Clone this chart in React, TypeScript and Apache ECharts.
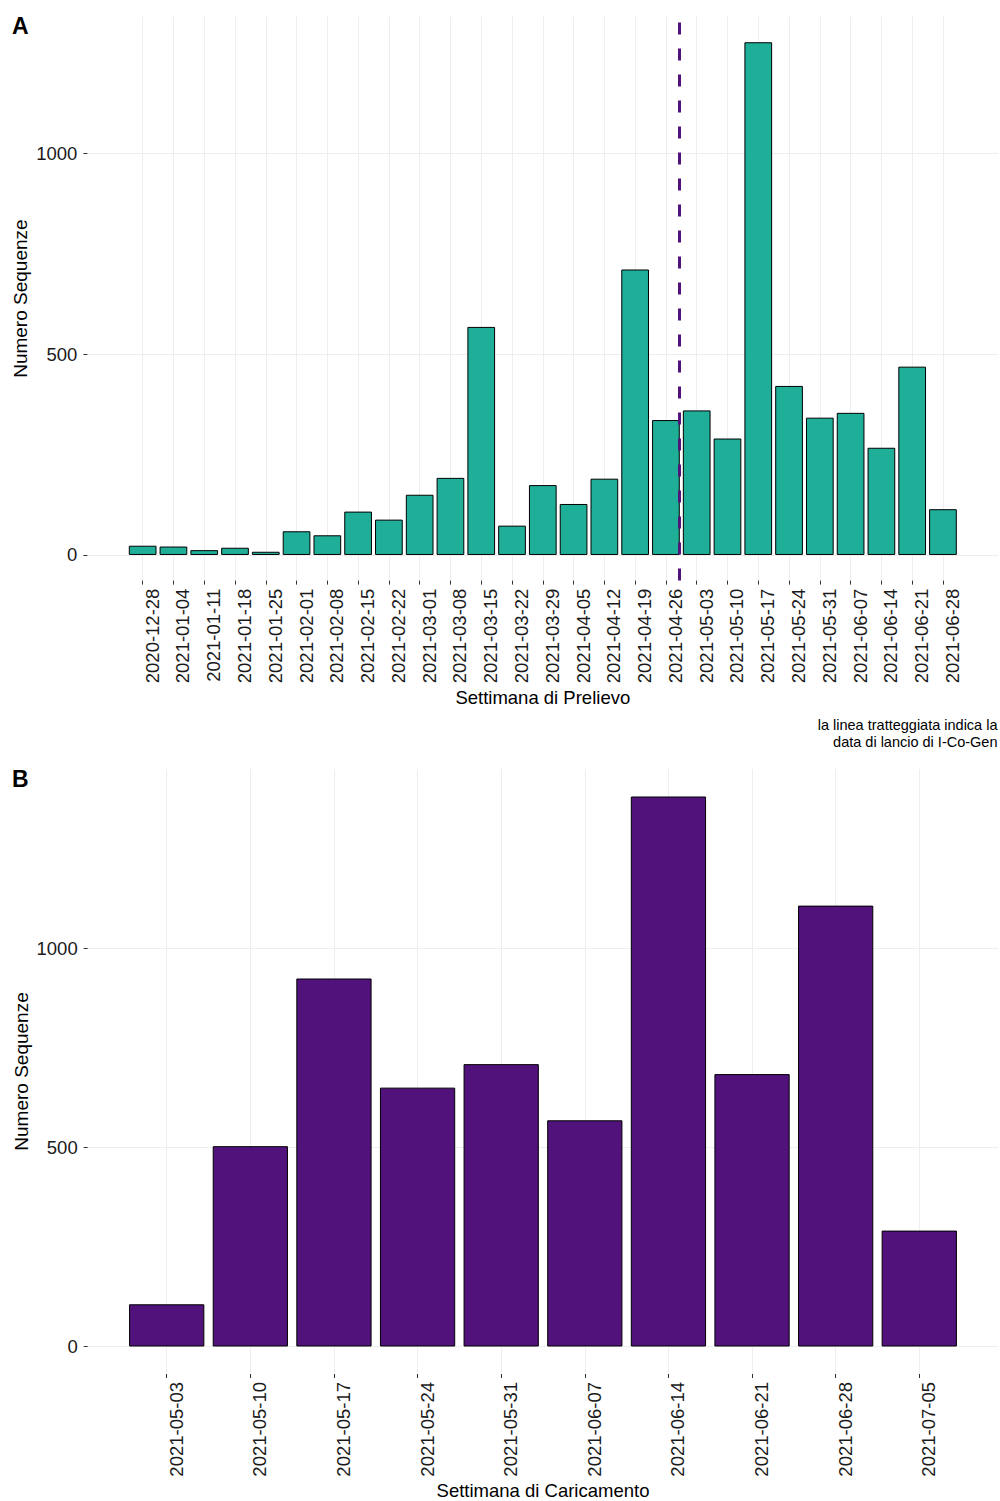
import { useEffect, useRef } from 'react';
import * as echarts from 'echarts';

// Weekly sequence counts by sampling week (panel A)
const weeksA = [
  '2020-12-28', '2021-01-04', '2021-01-11', '2021-01-18', '2021-01-25',
  '2021-02-01', '2021-02-08', '2021-02-15', '2021-02-22', '2021-03-01',
  '2021-03-08', '2021-03-15', '2021-03-22', '2021-03-29', '2021-04-05',
  '2021-04-12', '2021-04-19', '2021-04-26', '2021-05-03', '2021-05-10',
  '2021-05-17', '2021-05-24', '2021-05-31', '2021-06-07', '2021-06-14',
  '2021-06-21', '2021-06-28',
];
const countsA = [
  23, 21, 12, 18, 8, 59, 49, 108, 88, 150, 192, 568, 73, 174, 127, 190, 711,
  336, 360, 290, 1277, 421, 342, 354, 267, 469, 114,
];

// I-Co-Gen launch date (dashed line)
const launchDate = '2021-04-29';

// Weekly sequence counts by upload week (panel B)
const weeksB = [
  '2021-05-03', '2021-05-10', '2021-05-17', '2021-05-24', '2021-05-31',
  '2021-06-07', '2021-06-14', '2021-06-21', '2021-06-28', '2021-07-05',
];
const countsB = [106, 503, 924, 650, 709, 568, 1381, 684, 1107, 291];

const yTicks = [0, 500, 1000];

const FONT = '"Liberation Sans", Arial, Helvetica, sans-serif';
const TEAL = '#1FAE98';
const PURPLE = '#51127C';
const GRID_LINE = '#EEEEEE';
const TICK = '#333333';
const TEXT = '#1A1A1A';
const HALF_BAR = 0.45;

const WEEK_MS = 7 * 24 * 3600 * 1000;

// ggplot-style 5% expansion of a continuous range
function expand(lo: number, hi: number) {
  const pad = (hi - lo) * 0.05;
  return [lo - pad, hi + pad];
}

function xAxisFor(gridIndex: number, weeks: string[], name: string) {
  const idx = weeks.map((_, i) => i);
  const [min, max] = expand(-HALF_BAR, weeks.length - 1 + HALF_BAR);
  return {
    type: 'value',
    gridIndex,
    min,
    max,
    axisLine: { show: false, onZero: false },
    axisTick: {
      show: true,
      customValues: idx,
      length: 4,
      lineStyle: { color: TICK, width: 1 },
    },
    axisLabel: {
      show: true,
      customValues: idx,
      formatter: (v: number) => weeks[Math.round(v)] ?? '',
      rotate: 90,
      verticalAlign: 'top',
      margin: 8,
      fontSize: 18.5,
      color: TEXT,
      fontFamily: FONT,
    },
    splitLine: { show: true, lineStyle: { color: GRID_LINE, width: 1 } },
    name,
    nameLocation: 'middle',
    nameGap: 108,
    nameMoveOverlap: false,
    nameTextStyle: { fontSize: 18.5, lineHeight: 17, color: '#000', fontFamily: FONT },
  };
}

function yAxisFor(gridIndex: number, counts: number[]) {
  const [min, max] = expand(0, Math.max(...counts));
  return {
    type: 'value',
    gridIndex,
    min,
    max,
    axisLine: { show: false, onZero: false },
    axisTick: {
      show: true,
      customValues: yTicks,
      length: 4,
      lineStyle: { color: TICK, width: 1 },
    },
    axisLabel: {
      show: true,
      customValues: yTicks,
      formatter: (v: number) => String(Math.round(v)),
      margin: 10,
      fontSize: 18.5,
      color: TEXT,
      fontFamily: FONT,
    },
    splitLine: { show: true, lineStyle: { color: GRID_LINE, width: 1 } },
    name: 'Numero Sequenze',
    nameLocation: 'middle',
    nameGap: 57,
    nameMoveOverlap: false,
    nameTextStyle: { fontSize: 19, color: '#000', fontFamily: FONT },
  };
}

export default function App() {
  const ref = useRef<HTMLDivElement>(null);

  useEffect(() => {
    if (!ref.current) return;
    const chart = echarts.init(ref.current, undefined, { renderer: 'svg' });

    const launchIdx =
      (Date.parse(launchDate) - Date.parse(weeksA[0])) / WEEK_MS;

    chart.setOption({
      animation: false,
      backgroundColor: '#FFFFFF',
      textStyle: { fontFamily: FONT },
      grid: [
        { left: 87.4, right: 1.8, top: 16.6, height: 564, outerBoundsMode: 'none' },
        { left: 87.7, right: 1.7, top: 769, height: 605, outerBoundsMode: 'none' },
      ],
      xAxis: [
        xAxisFor(0, weeksA, 'Settimana di Prelievo'),
        xAxisFor(1, weeksB, 'Settimana di Caricamento'),
      ],
      yAxis: [yAxisFor(0, countsA), yAxisFor(1, countsB)],
      series: [
        {
          type: 'bar',
          xAxisIndex: 0,
          yAxisIndex: 0,
          data: countsA.map((v, i) => [i, v]),
          barWidth: '90%',
          itemStyle: { color: TEAL, borderColor: '#000', borderWidth: 1 },
          markLine: {
            silent: true,
            symbol: 'none',
            label: { show: false },
            lineStyle: { color: PURPLE, width: 3, type: [12, 14] },
            data: [{ xAxis: launchIdx }],
          },
        },
        {
          type: 'bar',
          xAxisIndex: 1,
          yAxisIndex: 1,
          data: countsB.map((v, i) => [i, v]),
          barWidth: '90%',
          itemStyle: { color: PURPLE, borderColor: '#000', borderWidth: 1 },
        },
      ],
      graphic: [
        {
          type: 'text',
          left: 12,
          top: 14,
          style: { text: 'A', font: `bold 23px ${FONT}`, fill: '#000' },
        },
        {
          type: 'text',
          left: 12,
          top: 767,
          style: { text: 'B', font: `bold 23px ${FONT}`, fill: '#000' },
        },
        {
          type: 'text',
          x: 997.5,
          y: 716.5,
          style: {
            text: 'la linea tratteggiata indica la\ndata di lancio di I-Co-Gen',
            font: `14.5px ${FONT}`,
            fill: '#000',
            align: 'right',
            verticalAlign: 'top',
            lineHeight: 17,
          },
        },
      ],
    });

    return () => chart.dispose();
  }, []);

  return (
    <div
      ref={ref}
      style={{ position: 'absolute', left: 0, top: 0, width: 1000, height: 1501 }}
    />
  );
}
